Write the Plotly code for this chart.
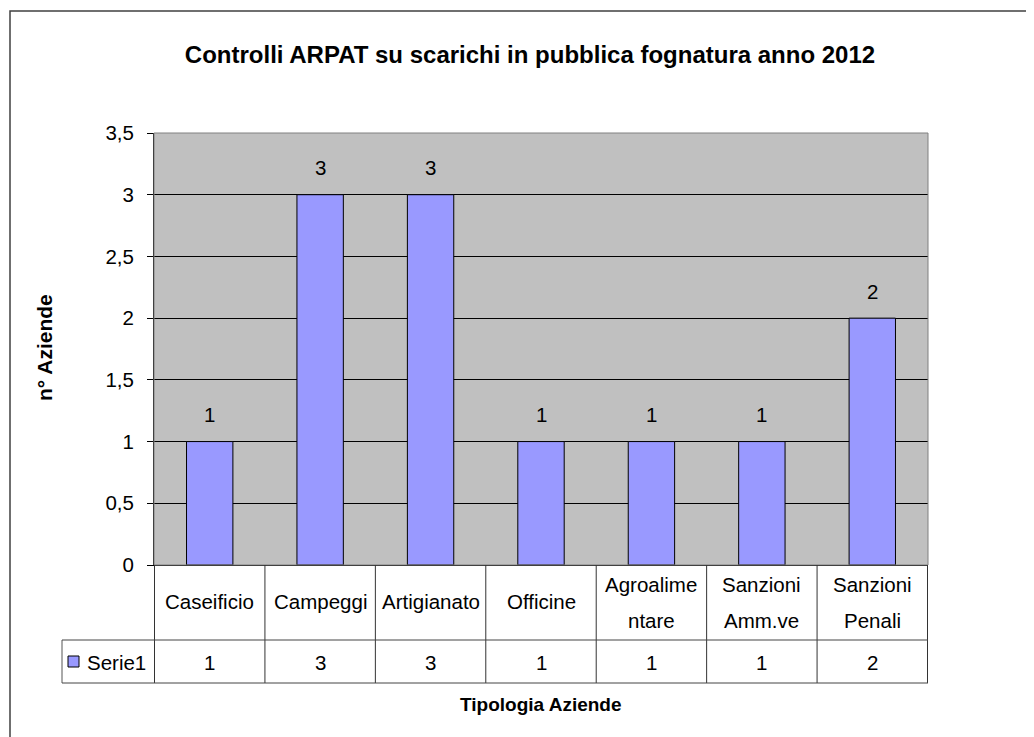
import plotly.graph_objects as go

# ---- data ----
categories = ["Caseificio", "Campeggi", "Artigianato", "Officine",
              "Agroalimentare", "Sanzioni Amm.ve", "Sanzioni Penali"]
table_labels = ["Caseificio", "Campeggi", "Artigianato", "Officine",
                "Agroalime<br>ntare", "Sanzioni<br>Amm.ve", "Sanzioni<br>Penali"]
values = [1, 3, 3, 1, 1, 1, 2]
series_name = "Serie1"
y_ticks = [0, 0.5, 1, 1.5, 2, 2.5, 3, 3.5]

title_text = "Controlli ARPAT su scarichi in pubblica fognatura anno 2012"
x_title = "Tipologia Aziende"
y_title = "n° Aziende"

# ---- layout geometry (reference pixels; page body adds an 8px offset) ----
OFF = 8
W, H = 1034 - OFF, 737 - OFF
PL, PR, PT, PB = 154, 928, 133, 565
pw, ph = PR - PL, PB - PT

def px_x(p):
    return (p - PL) / pw

def px_y(p):
    return (PB - p) / ph

FONT = "Liberation Sans, Arial, sans-serif"
BAR = "#9999FF"
TXT = 20.5

fig = go.Figure()
fig.add_trace(go.Bar(
    x=categories, y=values, name=series_name,
    marker=dict(color=BAR, line=dict(color="#000000", width=1)),
    width=0.42,
    hoverinfo="x+y",
))

shapes = []
# plot area border (gray)
shapes.append(dict(type="rect", xref="paper", yref="paper", x0=0, x1=1, y0=0, y1=1,
                   line=dict(color="#808080", width=1), layer="above"))
# outer chart border
shapes.append(dict(type="rect", xref="paper", yref="paper",
                   x0=px_x(10), x1=px_x(1100), y0=px_y(11), y1=px_y(800),
                   line=dict(color="#404040", width=1.5)))

row1_bot = px_y(640)
row2_bot = px_y(683)
legend_left = px_x(62)
n = len(categories)
for i in range(n + 1):
    shapes.append(dict(type="line", xref="x", yref="paper", x0=i - 0.5, x1=i - 0.5,
                       y0=0, y1=row2_bot, line=dict(color="#333333", width=1)))
shapes.append(dict(type="line", xref="paper", yref="paper", x0=legend_left, x1=legend_left,
                   y0=row1_bot, y1=row2_bot, line=dict(color="#555555", width=1)))
for yy in (row1_bot, row2_bot):
    shapes.append(dict(type="line", xref="paper", yref="paper", x0=legend_left, x1=1,
                       y0=yy, y1=yy, line=dict(color="#444444", width=1)))
# legend key square
shapes.append(dict(type="rect", xref="paper", yref="paper",
                   x0=px_x(68), x1=px_x(79), y0=px_y(667), y1=px_y(656),
                   fillcolor=BAR, line=dict(color="#000000", width=1)))

annotations = []
# data labels above bars
for cat, v in zip(categories, values):
    annotations.append(dict(x=cat, xref="x", y=v, yref="y", text=str(v),
                            showarrow=False, xanchor="center", yanchor="middle", yshift=27,
                            font=dict(size=TXT, color="#000000", family=FONT)))
# data table texts
for cat, lab, v in zip(categories, table_labels, values):
    lines = lab.split("<br>")
    if len(lines) == 1:
        centers = [601]
    else:
        centers = [584, 620]
    for line, cy in zip(lines, centers):
        annotations.append(dict(x=cat, xref="x", y=px_y(cy), yref="paper",
                                text=line, showarrow=False, xanchor="center", yanchor="middle",
                                font=dict(size=TXT, color="#000000", family=FONT)))
    annotations.append(dict(x=cat, xref="x", y=px_y(662), yref="paper",
                            text=str(v), showarrow=False, xanchor="center", yanchor="middle",
                            font=dict(size=TXT, color="#000000", family=FONT)))
annotations.append(dict(x=px_x(85), xref="paper", y=px_y(662), yref="paper",
                        text=series_name, showarrow=False, xanchor="left", yanchor="middle",
                        font=dict(size=TXT, color="#000000", family=FONT)))
annotations.append(dict(x=px_x(541), xref="paper", y=px_y(704), yref="paper",
                        text="<b>" + x_title + "</b>", showarrow=False,
                        xanchor="center", yanchor="middle",
                        font=dict(size=19, color="#000000", family=FONT)))
annotations.append(dict(x=px_x(44), xref="paper", y=px_y(348), yref="paper",
                        text="<b>" + y_title + "</b>", showarrow=False, textangle=-90,
                        xanchor="center", yanchor="middle",
                        font=dict(size=21, color="#000000", family=FONT)))

fig.update_layout(
    width=W, height=H, autosize=False,
    margin=dict(l=PL - OFF, r=1034 - PR, t=PT - OFF, b=737 - PB, pad=0),
    paper_bgcolor="#FFFFFF", plot_bgcolor="#C0C0C0",
    separators=", ",
    showlegend=False,
    title=dict(text="<b>" + title_text + "</b>", x=(530 - OFF) / W, xref="container",
               xanchor="center", y=1 - (55 - OFF) / H, yref="container", yanchor="middle",
               font=dict(size=24, color="#000000", family=FONT)),
    font=dict(family=FONT, color="#000000"),
    shapes=shapes, annotations=annotations,
    xaxis=dict(showticklabels=False, showgrid=False, showline=True,
               linecolor="#000000", linewidth=1, ticks="", zeroline=False),
    yaxis=dict(range=[0, 3.5], tickvals=y_ticks, showgrid=True, gridcolor="#000000",
               gridwidth=1, showline=True, linecolor="#000000", linewidth=1,
               ticks="outside", ticklen=6, tickcolor="#000000", zeroline=False,
               ticklabelstandoff=9,
               tickfont=dict(size=TXT, color="#000000", family=FONT)),
)

fig.write_html("out.html")
